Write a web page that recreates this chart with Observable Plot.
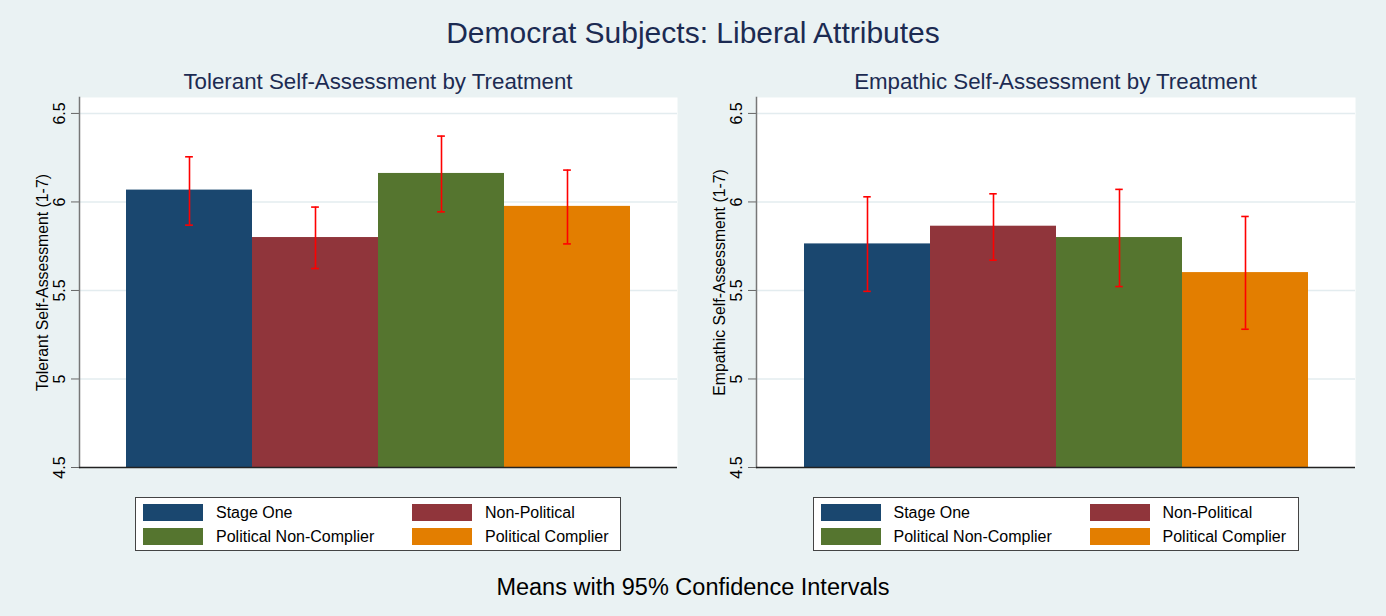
<!DOCTYPE html>
<html>
<head>
<meta charset="utf-8">
<script src="https://cdn.jsdelivr.net/npm/d3@7"></script>
<script src="https://cdn.jsdelivr.net/npm/@observablehq/plot@0.6"></script>
<style>
  html, body { margin: 0; padding: 0; background: #eaf2f3; }
  #page {
    position: relative; width: 1386px; height: 616px; overflow: hidden;
    background: #eaf2f3;
    font-family: "Liberation Sans", Arial, Helvetica, sans-serif;
  }
  .title {
    position: absolute; left: 0; width: 1386px; top: 15px;
    text-align: center; font-size: 30px; line-height: 36px; color: #1c2b52;
  }
  .subtitle {
    position: absolute; top: 69px; text-align: center;
    font-size: 22.3px; line-height: 26px; color: #1c2b52; white-space: nowrap;
  }
  .panel { position: absolute; top: 87px; }
  .legend {
    position: absolute; top: 497px; width: 486px; height: 54px;
    background: #fff; border: 1px solid #444; box-sizing: border-box;
  }
  .item { position: absolute; height: 17px; }
  .swatch { position: absolute; left: 0; top: 0; width: 60px; height: 17px; }
  .label {
    position: absolute; left: 73px; top: 0; line-height: 17px;
    font-size: 16px; color: #000; white-space: nowrap;
  }
  .caption {
    position: absolute; left: 0; width: 1386px; top: 573px;
    text-align: center; font-size: 23.5px; line-height: 28px; color: #000;
  }
</style>
</head>
<body>
<div id="page"></div>
<script>
// Treatment groups and their bar colours
const categories = ["Stage One", "Non-Political", "Political Non-Complier", "Political Complier"];
const barColors = ["#1a476f", "#90353b", "#55752f", "#e37e00"];

// Tolerant self-assessment: group means and 95% confidence bounds
const tolerantMean = [6.067, 5.799, 6.161, 5.975];
const tolerantLow  = [5.869, 5.624, 5.944, 5.763];
const tolerantHigh = [6.255, 5.971, 6.372, 6.180];

// Empathic self-assessment: group means and 95% confidence bounds
const empathicMean = [5.763, 5.863, 5.799, 5.601];
const empathicLow  = [5.495, 5.671, 5.522, 5.281];
const empathicHigh = [6.029, 6.046, 6.071, 5.918];

// Shared y axis
const yDomain = [4.5, 6.59];
const yTicks = [4.5, 5, 5.5, 6, 6.5];
const yTickLabels = ["4.5", "5", "5.5", "6", "6.5"];
const gridTicks = [5, 5.5, 6, 6.5];

const titleText = "Democrat Subjects: Liberal Attributes";
const captionText = "Means with 95% Confidence Intervals";

const panels = [
  {subtitle: "Tolerant Self-Assessment by Treatment", yLabel: "Tolerant Self-Assessment (1-7)",
   means: tolerantMean, lows: tolerantLow, highs: tolerantHigh, left: 0, marginLeft: 79, marginRight: 16},
  {subtitle: "Empathic Self-Assessment by Treatment", yLabel: "Empathic Self-Assessment (1-7)",
   means: empathicMean, lows: empathicLow, highs: empathicHigh, left: 693, marginLeft: 63, marginRight: 31}
];

const W = 693, H = 390, MT = 10, MB = 10;
const page = document.getElementById("page");

function el(tag, cls, text) {
  const e = document.createElement(tag);
  if (cls) e.className = cls;
  if (text != null) e.textContent = text;
  return e;
}

page.appendChild(el("div", "title", titleText));

for (const p of panels) {
  const rows = categories.map((c, i) => ({category: c, mean: p.means[i], low: p.lows[i], high: p.highs[i]}));
  const inset = 46.5;
  const band = (W - p.marginLeft - p.marginRight - 2 * inset) / categories.length;
  const capInset = (band - 8) / 2;
  const red = "#ff0000";

  const chart = Plot.plot({
    width: W, height: H,
    marginTop: MT, marginBottom: MB, marginLeft: p.marginLeft, marginRight: p.marginRight,
    style: {background: "transparent", fontFamily: '"Liberation Sans", Arial, sans-serif', fontSize: "16px", color: "#000", overflow: "visible"},
    x: {domain: categories, padding: 0, inset, axis: null},
    y: {domain: yDomain, axis: null},
    color: {domain: categories, range: barColors},
    marks: [
      Plot.frame({fill: "#fff", stroke: "none"}),
      Plot.ruleY(gridTicks, {stroke: "#e3ecef", strokeWidth: 1.5}),
      Plot.barY(rows, {x: "category", y1: yDomain[0], y2: "mean", fill: "category"}),
      Plot.ruleX(rows, {x: "category", y1: "low", y2: "high", stroke: red, strokeWidth: 1.6}),
      Plot.tickY(rows, {x: "category", y: "low", stroke: red, strokeWidth: 1.6, insetLeft: capInset, insetRight: capInset}),
      Plot.tickY(rows, {x: "category", y: "high", stroke: red, strokeWidth: 1.6, insetLeft: capInset, insetRight: capInset}),
      // tick marks from the axis; labels are drawn vertically beside them
      Plot.axisY({ticks: yTicks, tickFormat: () => "", tickSize: 8, stroke: "#666", label: null}),
      Plot.text(yTicks, {y: (d) => d, text: (d, i) => yTickLabels[i], frameAnchor: "left", textAnchor: "middle",
        rotate: -90, lineAnchor: "bottom", dx: -15, fontSize: 16, fill: "#000"}),
      Plot.frame({anchor: "left", stroke: "#777", strokeWidth: 1.5}),
      Plot.ruleY([yDomain[0]], {stroke: "#222", strokeWidth: 1.5}),
      Plot.text([p.yLabel], {frameAnchor: "left", textAnchor: "middle", rotate: -90, lineAnchor: "bottom", dx: -32, fontSize: 15.8, fill: "#000"})
    ]
  });

  const holder = el("div", "panel");
  holder.style.left = p.left + "px";
  holder.appendChild(chart);
  page.appendChild(holder);

  const regionLeft = p.left + p.marginLeft;
  const regionWidth = W - p.marginLeft - p.marginRight;

  const sub = el("div", "subtitle", p.subtitle);
  sub.style.left = regionLeft + "px";
  sub.style.width = regionWidth + "px";
  page.appendChild(sub);

  // Two-column legend box under the panel
  const legend = el("div", "legend");
  legend.style.left = (regionLeft + regionWidth / 2 - 243) + "px";
  categories.forEach((c, i) => {
    const item = el("div", "item");
    item.style.left = (i % 2 === 0 ? 7 : 276) + "px";
    item.style.top = (i < 2 ? 6 : 30) + "px";
    const sw = el("div", "swatch");
    sw.style.background = barColors[i];
    item.appendChild(sw);
    item.appendChild(el("div", "label", c));
    legend.appendChild(item);
  });
  page.appendChild(legend);
}

page.appendChild(el("div", "caption", captionText));
</script>
</body>
</html>
